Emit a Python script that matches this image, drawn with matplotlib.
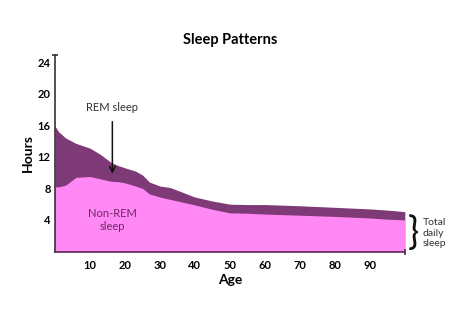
import matplotlib.pyplot as plt

# ages (years) and hours
ages = [0, 1, 3, 6, 10, 13, 16, 18, 20, 23, 25, 27, 30, 33, 40, 45, 50, 55, 60, 70, 80, 90, 95, 100]
total = [15.9, 15.2, 14.4, 13.7, 13.1, 12.3, 11.3, 10.9, 10.6, 10.2, 9.7, 8.8, 8.3, 8.1, 6.9, 6.4, 6.0, 5.95, 5.95, 5.8, 5.6, 5.4, 5.25, 5.05]
non_rem = [8.2, 8.2, 8.4, 9.4, 9.5, 9.2, 8.9, 8.85, 8.7, 8.3, 8.0, 7.3, 6.9, 6.6, 5.9, 5.35, 4.9, 4.85, 4.75, 4.6, 4.45, 4.25, 4.1, 4.0]

x_ticks = [10, 20, 30, 40, 50, 60, 70, 80, 90]
y_ticks = [4, 8, 12, 16, 20, 24]

dark = "#7d3a76"
pink = "#ff88f4"
txt = "#6b2a63"

plt.rcParams["font.family"] = ["Lato", "DejaVu Sans"]

fig = plt.figure(figsize=(4.74, 3.09), dpi=100)
ax = fig.add_axes([0.116, 0.186, 0.738, 0.636])

ax.fill_between(ages, 0, total, color=dark, lw=0)
ax.fill_between(ages, 0, non_rem, color=pink, lw=0)

ax.set_xlim(0, 100)
ax.set_ylim(0, 24.9)
ax.set_xticks(x_ticks)
ax.set_yticks(y_ticks)
ax.tick_params(axis="y", length=0, labelsize=8, pad=3)
ax.tick_params(axis="x", length=0, labelsize=8, pad=6)
for lab in ax.get_xticklabels() + ax.get_yticklabels():
    lab.set_fontweight("bold")
for s in ["top", "right"]:
    ax.spines[s].set_visible(False)
ax.spines["left"].set_color("#333333")
ax.spines["bottom"].set_color("#5a2a55")
ax.spines["left"].set_linewidth(1.2)
ax.spines["bottom"].set_linewidth(1.2)
ax.plot([0], [24.9], marker="_", color="#333333", ms=5, mew=1.2, clip_on=False)
ax.plot([100], [0], marker="|", color="#5a2a55", ms=4, mew=1.2, clip_on=False)

ax.set_xlabel("Age", fontsize=10, fontweight="bold", labelpad=2)
ax.set_ylabel("Hours", fontsize=10, fontweight="bold", labelpad=3)
ax.set_title("Sleep Patterns", fontsize=10.5, fontweight="bold", pad=8)

ax.text(16.4, 18.2, "REM sleep", ha="center", va="center", fontsize=8, color="#333333")
ax.annotate("", xy=(16.4, 9.5), xytext=(16.4, 16.8),
            arrowprops=dict(arrowstyle="->", color="#111111", lw=1.1, mutation_scale=10))
ax.text(16.4, 4.0, "Non-REM\nsleep", ha="center", va="center", fontsize=8,
        color=txt, linespacing=1.3)

ax.text(102.5, 2.4, "}", ha="center", va="center", fontsize=27, color="#111111",
        clip_on=False)
ax.text(105.0, 2.3, "Total\ndaily\nsleep", ha="left", va="center", fontsize=7.5,
        color="#333333", linespacing=1.2, clip_on=False)

fig.savefig("out.png", dpi=100)
